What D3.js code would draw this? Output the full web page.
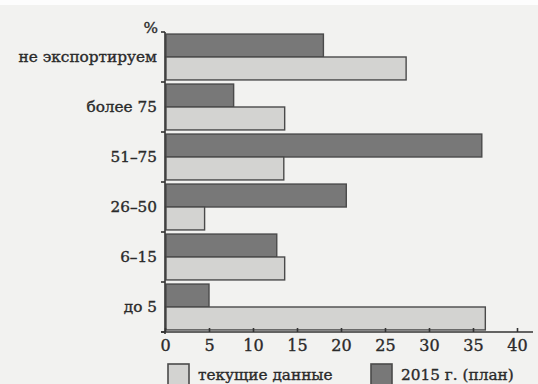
<!DOCTYPE html>
<html>
<head>
<meta charset="utf-8">
<script src="https://cdn.jsdelivr.net/npm/d3@7"></script>
<style>
  html, body { margin: 0; padding: 0; background: #f2f2f0; }
  svg { display: block; }
  text { font-family: "DejaVu Serif", "Liberation Serif", serif; fill: #2a2a2a; stroke: #2a2a2a; stroke-width: 0.35px; }
</style>
</head>
<body>
<svg id="chart" width="538" height="384"></svg>
<script>
// Share of exports in sales, % of companies
const categories = ["не экспортируем", "более 75", "51–75", "26–50", "6–15", "до 5"];
const currentValues = [27.4, 13.6, 13.5, 4.5, 13.6, 36.4];
const planValues = [18, 7.8, 36.0, 20.6, 12.7, 5];
const xTicks = [0, 5, 10, 15, 20, 25, 30, 35, 40];
const seriesNames = ["текущие данные", "2015 г. (план)"];

const colors = { current: "#d3d3d1", plan: "#787878", stroke: "#4a4a4a", axis: "#333" };
const FS = 15.3;

const svg = d3.select("#chart");
const W = 538, H = 384;

// page strip at the top
svg.append("rect").attr("width", W).attr("height", H).attr("fill", "#f2f2f0");
svg.append("rect").attr("width", W).attr("height", 5).attr("fill", "#fdfdfd");

const x = d3.scaleLinear().domain([0, 40]).range([165, 517]);
const y = d3.scaleBand().domain(categories).range([32, 332]).paddingInner(0).paddingOuter(0);
const sub = d3.scaleBand().domain(["plan", "current"]).range([0, y.bandwidth()]).paddingOuter(0.09).paddingInner(0);

const rows = categories.map((c, i) => ({ c, plan: planValues[i], current: currentValues[i] }));

// bars
const g = svg.append("g");
rows.forEach(r => {
  ["plan", "current"].forEach(k => {
    g.append("rect")
      .attr("x", x(0) + 1)
      .attr("y", y(r.c) + sub(k))
      .attr("width", x(r[k]) - x(0) - 1)
      .attr("height", sub.bandwidth())
      .attr("fill", colors[k])
      .attr("stroke", colors.stroke)
      .attr("stroke-width", 1.4);
  });
});

// y axis: line, boundary ticks, category labels
const yAxis = svg.append("g");
yAxis.append("line")
  .attr("x1", x(0)).attr("x2", x(0))
  .attr("y1", y.range()[0]).attr("y2", y.range()[1] + 2)
  .attr("stroke", colors.axis).attr("stroke-width", 1.6);
const bounds = categories.map(c => y(c)).concat([y.range()[1]]);
yAxis.selectAll("line.tick").data(bounds).join("line")
  .attr("class", "tick")
  .attr("x1", x(0) - 4).attr("x2", x(0))
  .attr("y1", d => d).attr("y2", d => d)
  .attr("stroke", colors.axis).attr("stroke-width", 1.6);
yAxis.selectAll("text.cat").data(categories).join("text")
  .attr("class", "cat")
  .attr("x", 157)
  .attr("y", d => y(d) + y.bandwidth() / 2)
  .attr("dy", "0.35em")
  .attr("text-anchor", "end")
  .attr("font-size", FS)
  .text(d => d);
yAxis.append("text")
  .attr("x", 158).attr("y", 33)
  .attr("text-anchor", "end")
  .attr("font-size", FS)
  .text("%");

// x axis
const xAxis = d3.axisBottom(x).tickValues(xTicks).tickSize(-4).tickPadding(8).tickSizeOuter(0);
const xg = svg.append("g").attr("transform", `translate(0,${y.range()[1]})`).call(xAxis);
xg.select(".domain").remove();
xg.append("line").attr("x1", 161).attr("x2", 533).attr("y1", 0).attr("y2", 0)
  .attr("stroke", colors.axis).attr("stroke-width", 1.6);
xg.selectAll(".tick line").attr("stroke", colors.axis).attr("stroke-width", 1.6);
xg.selectAll(".tick text")
  .attr("font-family", "DejaVu Serif, Liberation Serif, serif")
  .attr("font-size", FS + 0.7).attr("fill", "#2a2a2a");

// legend
const legend = [
  { name: seriesNames[0], color: colors.current, x: 168 },
  { name: seriesNames[1], color: colors.plan, x: 371 }
];
const lg = svg.append("g");
legend.forEach(l => {
  lg.append("rect").attr("x", l.x).attr("y", 364).attr("width", 21).attr("height", 21)
    .attr("fill", l.color).attr("stroke", colors.stroke).attr("stroke-width", 1.6);
  lg.append("text").attr("x", l.x + 30).attr("y", 380).attr("font-size", FS).text(l.name);
});
</script>
</body>
</html>
